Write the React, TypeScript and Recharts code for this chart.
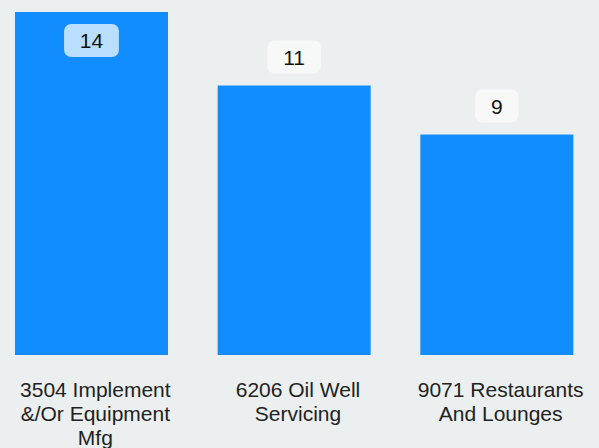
import React from "react";
import { BarChart, Bar, XAxis, YAxis, LabelList } from "recharts";

const categories = [
  "3504 Implement &/Or Equipment Mfg",
  "6206 Oil Well Servicing",
  "9071 Restaurants And Lounges",
];
const counts = [14, 11, 9];

const data = categories.map((name, i) => ({ name, count: counts[i] }));

const FONT = '"Liberation Sans", Arial, sans-serif';
const FONT_SIZE = 21;
const BLUE = "#118DFF";
const BG = "#ECEFF0";

let ctx: CanvasRenderingContext2D | null = null;
function textWidth(s: string) {
  if (!ctx) ctx = document.createElement("canvas").getContext("2d");
  if (!ctx) return s.length * FONT_SIZE * 0.5;
  ctx.font = `${FONT_SIZE}px ${FONT}`;
  return ctx.measureText(s).width;
}

function wrap(s: string, max: number) {
  const lines: string[] = [];
  let cur = "";
  for (const w of s.split(" ")) {
    const next = cur ? cur + " " + w : w;
    if (cur && textWidth(next) > max) {
      lines.push(cur);
      cur = w;
    } else cur = next;
  }
  if (cur) lines.push(cur);
  return lines;
}

function Tick(props: any) {
  const { x, y, payload } = props;
  const lines = wrap(String(payload.value), 180);
  const tx = x + 4;
  return (
    <text x={tx} y={y} textAnchor="middle" fill="#222" fontSize={FONT_SIZE} fontFamily={FONT}>
      {lines.map((l, i) => (
        <tspan key={i} x={tx} y={y + 41.5 + i * 24}>
          {l}
        </tspan>
      ))}
    </text>
  );
}

function ValueLabel(props: any) {
  const { x, y, width, value } = props;
  const cx = x + width / 2;
  const w = textWidth(String(value)) + 31.5;
  const h = 33;
  const outsideTop = y - 12 - h;
  const inside = outsideTop < 0;
  const top = inside ? y + 12 : outsideTop;
  return (
    <g>
      <rect
        x={cx - w / 2}
        y={top}
        width={w}
        height={h}
        rx={7}
        ry={7}
        fill={inside ? "#BADEFF" : "#F7F9F9"}
      />
      <text
        x={cx}
        y={top + h / 2}
        dy="0.36em"
        textAnchor="middle"
        fill="#111"
        fontSize={FONT_SIZE}
        fontFamily={FONT}
      >
        {value}
      </text>
    </g>
  );
}

export default function App() {
  return (
    <div style={{ position: "absolute", left: 0, top: 0, width: 599, height: 448, background: BG, overflow: "hidden" }}>
      <style>{`body{margin:0}`}</style>
      <div style={{ position: "absolute", left: -10, top: 0 }}>
        <BarChart width={608} height={448} data={data} margin={{ top: 12, right: 0, left: 0, bottom: 0 }}>
          <XAxis
            dataKey="name"
            axisLine={false}
            tickLine={false}
            tickSize={0}
            tickMargin={0}
            height={93}
            interval={0}
            tick={<Tick />}
          />
          <YAxis hide domain={[0, 14]} />
          <Bar dataKey="count" fill={BLUE} barSize={153} isAnimationActive={false}>
            <LabelList dataKey="count" content={<ValueLabel />} />
          </Bar>
        </BarChart>
      </div>
    </div>
  );
}
